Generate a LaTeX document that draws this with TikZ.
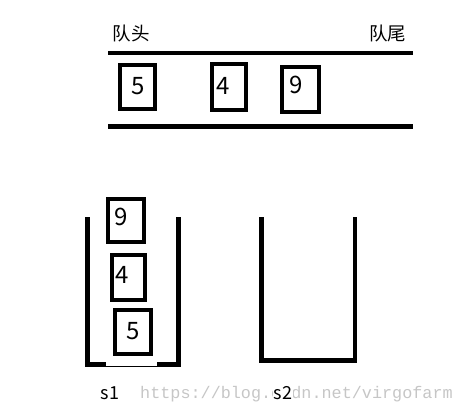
\documentclass[tikz,border=0pt]{standalone}
\usepackage{fontspec}
\setmainfont{Noto Sans CJK SC}
\newfontfamily\wmfont{Liberation Mono}
\begin{document}
\begin{tikzpicture}[x=1pt,y=-1pt,
  itembox/.style={draw=black,line width=4pt,minimum width=#1,inner sep=0pt,fill=none},
  digit/.style={font=\fontsize{24}{24}\selectfont,inner sep=0pt},
  cjklabel/.style={font=\fontsize{18.5}{18.5}\selectfont,inner sep=0pt},
  stacklabel/.style={font=\fontsize{18}{18}\selectfont,inner sep=1pt},
  rail/.style={line width=4.3pt},
  wall/.style={line width=4.6pt,line cap=rect,line join=miter}]
\useasboundingbox (0,0) rectangle (464,415);
% queue rails
\coordinate (qtl) at (108,52.7);
\coordinate (qtr) at (413,52.7);
\coordinate (qbl) at (108,126.5);
\coordinate (qbr) at (413,126.5);
\draw[rail] (qtl) -- (qtr);
\draw[rail] (qbl) -- (qbr);
\node[cjklabel] (head) at (131,33) {队头};
\node[cjklabel] (tail) at (387.5,33) {队尾};
% queue items
\draw[line width=4pt] (120,65) rectangle (155,109);
\node[digit] (q5) at (138,86) {5};
\draw[line width=4pt] (212,64) rectangle (246,110);
\node[digit] (q4) at (223.5,85.5) {4};
\draw[line width=4pt] (282,67) rectangle (319,112);
\node[digit] (q9) at (296.5,85) {9};
% stack s1
\draw[wall] (87.5,219) -- (87.5,364.5) -- (104,364.5);
\draw[wall] (159,364.5) -- (178.5,364.5) -- (178.5,219);
\draw[line width=1.6pt] (104,366.3) -- (159,366.3);
\draw[line width=4pt] (108,199) rectangle (144,242);
\node[digit] (s9) at (121.5,216.5) {9};
\draw[line width=4pt] (112,255) rectangle (145,300);
\node[digit] (s4) at (122.5,274.5) {4};
\draw[line width=4pt] (115,310) rectangle (151,354);
\node[digit] (s5) at (133.5,331) {5};
% stack s2
\draw[wall] (261.5,219) -- (261.5,360.5) -- (355,360.5) -- (355,219);
% watermark and labels
\node[font=\wmfont\fontsize{16.8}{16.8}\selectfont,text=gray!45,inner sep=0pt,anchor=west] (wm) at (140,394) {https://blog.csdn.net/virgofarm};
\node[stacklabel] (l1) at (110,393) {s1};
\node[stacklabel,fill=white,inner sep=0.5pt] (l2) at (283,393) {s2};
\end{tikzpicture}
\end{document}
